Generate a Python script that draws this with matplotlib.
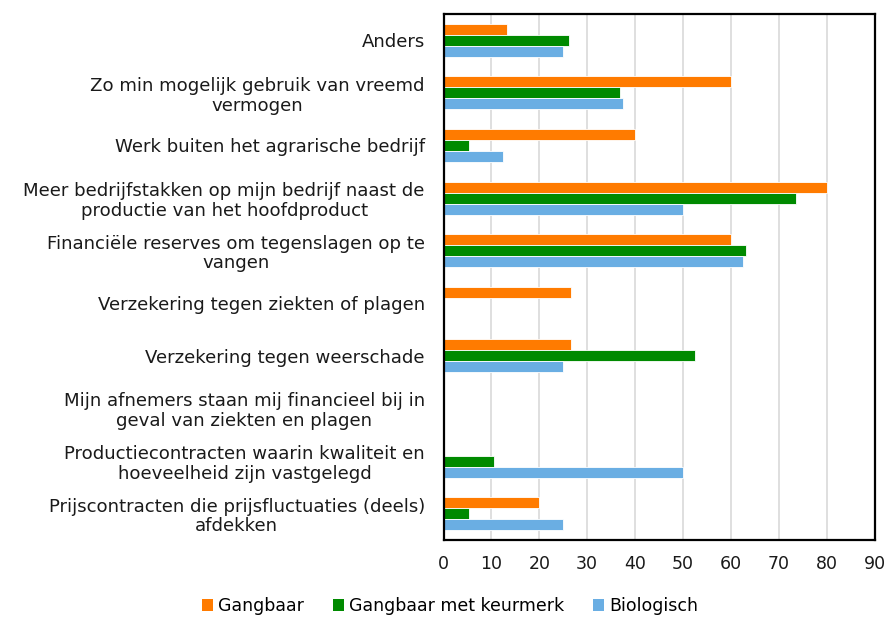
import matplotlib
matplotlib.use("Agg")
import matplotlib.pyplot as plt
import numpy as np
from matplotlib.patches import Patch

categories = [
    "Anders",
    "Zo min mogelijk gebruik van vreemd\nvermogen",
    "Werk buiten het agrarische bedrijf",
    "Meer bedrijfstakken op mijn bedrijf naast de\nproductie van het hoofdproduct",
    "Financiële reserves om tegenslagen op te\nvangen",
    "Verzekering tegen ziekten of plagen",
    "Verzekering tegen weerschade",
    "Mijn afnemers staan mij financieel bij in\ngeval van ziekten en plagen",
    "Productiecontracten waarin kwaliteit en\nhoeveelheid zijn vastgelegd",
    "Prijscontracten die prijsfluctuaties (deels)\nafdekken",
]
series_names = ["Gangbaar", "Gangbaar met keurmerk", "Biologisch"]
gangbaar = [13.3, 60, 40, 80, 60, 26.7, 26.7, 0, 0, 20]
keurmerk = [26.3, 36.8, 5.3, 73.7, 63.2, 0, 52.6, 0, 10.5, 5.3]
biologisch = [25, 37.5, 12.5, 50, 62.5, 0, 25, 0, 50, 25]
colors = ["#FF7B00", "#008A00", "#6AAEE3"]

fig = plt.figure(figsize=(8.88, 6.17), dpi=100)
ax = fig.add_axes([443.5/888, 1 - 540/617, (874.5-443.5)/888, (540-14)/617])

n = len(categories)
y = np.arange(n)[::-1].astype(float)
h = 0.21
for i, (vals, c) in enumerate(zip([gangbaar, keurmerk, biologisch], colors)):
    vals = np.array(vals, dtype=float)
    lw = np.where(vals > 0, 0.6, 0.0)
    ax.barh(y + (1 - i) * h, vals, height=h, color=c, edgecolor="white", linewidth=lw, zorder=3)

ax.set_xlim(0, 90)
ax.set_ylim(-0.5, n - 0.5)
ax.set_xticks(np.arange(0, 91, 10))
ax.set_yticks(y)
ax.set_yticklabels(categories, fontsize=13.1, color="#1a1a1a", multialignment="center",
                   linespacing=1.12)
ax.tick_params(axis="x", labelsize=12.5, colors="#1a1a1a", length=0, pad=11)
ax.tick_params(axis="y", length=0, pad=13.5)
ax.grid(axis="x", color="#D9D9D9", linewidth=1.2, zorder=0)
for s in ax.spines.values():
    s.set_color("black")
    s.set_linewidth(1.6)
    s.set_zorder(5)

handles = [Patch(facecolor=c, edgecolor="none") for c in colors]
fig.legend(handles, series_names, loc="center", bbox_to_anchor=(450/888, 1 - 606/617),
           ncol=3, frameon=False, fontsize=12.5, handlelength=0.65, handleheight=0.65,
           handletextpad=0.3, columnspacing=1.65)

fig.savefig("out.png", dpi=100)
